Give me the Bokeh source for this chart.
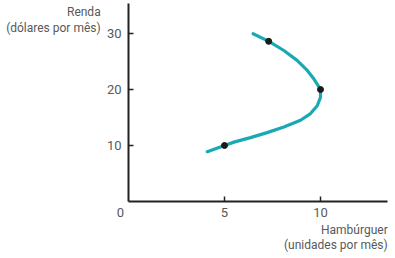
from bokeh.plotting import figure
from bokeh.models import Range1d, FixedTicker, CustomLabelingPolicy
from bokeh.core.properties import value
from bokeh.embed import file_html
from bokeh.resources import INLINE

# Engel curve (hambúrguer vs renda)
curve_x = [6.49, 7.31, 8.09, 8.78, 9.31, 9.65, 9.86, 10.0, 10.0, 9.83, 9.48, 8.96,
           8.09, 7.22, 6.35, 5.49, 5.0, 4.1]
curve_y = [29.95, 28.6, 26.96, 25.2, 23.4, 21.9, 20.8, 20.0, 18.6, 17.1, 15.7, 14.5,
           13.3, 12.3, 11.4, 10.6, 10.0, 8.9]
point_x = [5, 10, 7.3]
point_y = [10, 20, 28.6]
x_ticks = [5, 10]
y_ticks = [10, 20, 30]
x_tick_labels = ["5", "10"]
y_tick_labels = ["10", "20", "30"]

FONT = "Roboto"
GRAY = "#58595b"

p = figure(width=395, height=258, output_backend="svg", toolbar_location=None,
           x_range=Range1d(-6.667, 13.906), y_range=Range1d(-10.18, 35.89),
           min_border=0)
p.outline_line_color = None
p.grid.visible = False
p.background_fill_color = None

hide_all = CustomLabelingPolicy(code="for (const i of indices) indices.unset(i); return indices")
for ax in (p.xaxis[0], p.yaxis[0]):
    ax.fixed_location = 0
    ax.axis_line_width = 2
    ax.axis_line_color = "#222222"
    ax.major_tick_in = 5
    ax.major_tick_out = 0
    ax.major_tick_line_width = 1.5
    ax.major_tick_line_color = "#222222"
    ax.minor_tick_line_color = None
    ax.major_label_text_font_size = "0px"
    ax.major_label_standoff = 0
    ax.major_label_policy = hide_all
p.xaxis[0].ticker = FixedTicker(ticks=x_ticks)
p.yaxis[0].ticker = FixedTicker(ticks=y_ticks)
p.xaxis[0].bounds = (0, 13.5)
p.yaxis[0].bounds = (0, 35.4)

p.line(curve_x, curve_y, line_color="#1aa9b4", line_width=3.2, line_cap="round",
       line_join="round")
p.scatter(point_x, point_y, size=6, color="#1a1a1a")

common = dict(text_font=value(FONT), text_font_size="13px", text_color=GRAY,
              text_baseline="middle")
# tick labels
p.text(x=x_ticks, y=[0] * len(x_ticks), text=x_tick_labels, y_offset=11,
       text_align="center", **common)
p.text(x=[0] * len(y_ticks), y=y_ticks, text=y_tick_labels, x_offset=-7,
       text_align="right", **common)
p.text(x=[0], y=[0], text=["0"], x_offset=-8, y_offset=11, text_align="center", **common)
# axis titles
tcommon = dict(common, text_font_size="12px")
p.text(x=[-1.45, -1.45], y=[33.9, 30.9], text=["Renda", "(dólares por mês)"],
       text_align="right", **tcommon)
p.text(x=[13.5, 13.5], y=[-5.1, -7.8], text=["Hambúrguer", "(unidades por mês)"],
       text_align="right", **tcommon)

open("out.html", "w").write(file_html(p, INLINE))
